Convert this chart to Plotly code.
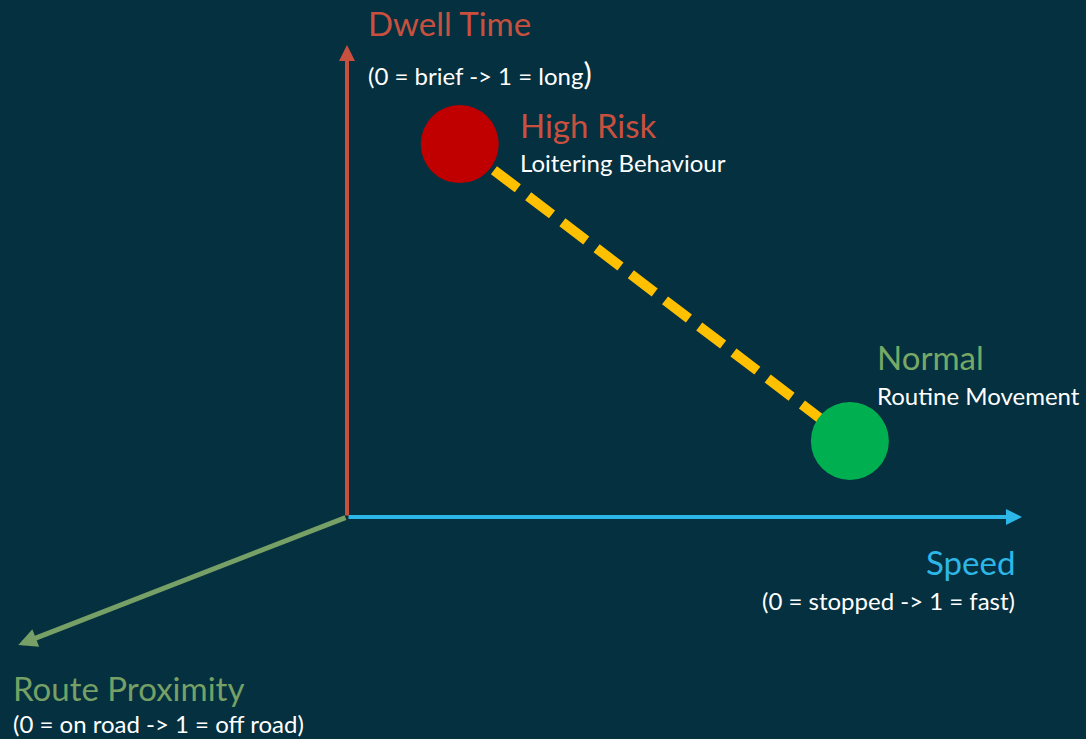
import plotly.graph_objects as go

# ---------------- data ----------------
categories = ["High Risk", "Normal"]
descriptions = ["Loitering Behaviour", "Routine Movement"]
speed = [0.167, 0.745]          # 0 = stopped -> 1 = fast
dwell = [0.790, 0.161]          # 0 = brief -> 1 = long
point_colors = ["#C00000", "#00B050"]
label_colors = ["#C9503F", "#77A865"]

axis_names = ["Speed", "Dwell Time", "Route Proximity"]
axis_notes = ["(0 = stopped -> 1 = fast)", "(0 = brief -> 1 = long", "(0 = on road -> 1 = off road)"]
axis_colors = ["#2DB7E8", "#C9503F", "#76A065"]
# projection of the third (Route Proximity) axis onto the page, unit = 1
proximity_dir = [-0.487, -0.271]

BG = "#04303F"
FONT = "Lato"
W, H = 1086, 739

fig = go.Figure()

# dashed connection between the two profiles
fig.add_trace(go.Scatter(
    x=speed, y=dwell, mode="lines",
    line=dict(color="#FFC000", width=10, dash="30px,13px"),
    hoverinfo="skip", showlegend=False))

# profile points
fig.add_trace(go.Scatter(
    x=speed, y=dwell, mode="markers",
    marker=dict(size=78, color=point_colors, line=dict(width=0)),
    hoverinfo="skip", showlegend=False))

ann = []
# axis arrows: speed (x), dwell (y), proximity (projected)
ends = [(1, 0), (0, 1), (proximity_dir[0], proximity_dir[1])]
widths = [4, 4, 5]
for (ex, ey), c, w in zip(ends, axis_colors, widths):
    ann.append(dict(x=ex, y=ey, ax=0, ay=0, xref="x", yref="y", axref="x", ayref="y",
                    text="", showarrow=True, arrowhead=2, arrowsize=0.8 if w == 4 else 0.75,
                    arrowwidth=w, arrowcolor=c, standoff=0, startstandoff=0))

title_size = 33
note_size = 24

# axis titles and notes
# speed
ann.append(dict(x=1, y=0, xref="x", yref="y", text=axis_names[0], showarrow=False,
                xanchor="right", yanchor="middle", xshift=-5, yshift=-45,
                font=dict(family=FONT, size=title_size, color=axis_colors[0])))
ann.append(dict(x=1, y=0, xref="x", yref="y", text=axis_notes[0], showarrow=False,
                xanchor="right", yanchor="middle", xshift=-5, yshift=-83,
                font=dict(family=FONT, size=note_size, color="white")))
# dwell
ann.append(dict(x=0, y=1, xref="x", yref="y", text=axis_names[1], showarrow=False,
                xanchor="left", yanchor="middle", xshift=19, yshift=22,
                font=dict(family=FONT, size=title_size, color=axis_colors[1])))
ann.append(dict(x=0, y=1, xref="x", yref="y",
                text=axis_notes[1] + "<span style='font-size:31px'>)</span>", showarrow=False,
                xanchor="left", yanchor="middle", xshift=19, yshift=-28,
                font=dict(family=FONT, size=note_size, color="white")))
# proximity
ann.append(dict(x=proximity_dir[0], y=proximity_dir[1], xref="x", yref="y", text=axis_names[2],
                showarrow=False, xanchor="left", yanchor="middle", xshift=-7, yshift=-43,
                font=dict(family=FONT, size=title_size, color=axis_colors[2])))
ann.append(dict(x=proximity_dir[0], y=proximity_dir[1], xref="x", yref="y", text=axis_notes[2],
                showarrow=False, xanchor="left", yanchor="middle", xshift=-7, yshift=-79,
                font=dict(family=FONT, size=note_size, color="white")))

# point labels
label_offsets = [(58, 19, -18), (25, 84, 46)]
for i in range(len(categories)):
    dx, dy1, dy2 = label_offsets[i]
    ann.append(dict(x=speed[i], y=dwell[i], xref="x", yref="y", text=categories[i],
                    showarrow=False, xanchor="left", yanchor="middle", xshift=dx, yshift=dy1,
                    font=dict(family=FONT, size=title_size, color=label_colors[i])))
    ann.append(dict(x=speed[i], y=dwell[i], xref="x", yref="y", text=descriptions[i],
                    showarrow=False, xanchor="left", yanchor="middle", xshift=dx, yshift=dy2,
                    font=dict(family=FONT, size=note_size, color="white")))

# pixel frame: origin at (347, 517), speed=1 at x=1022, dwell=1 at y=45
ox, oy, xe, ye = 347, 517, 1022, 45
sx = xe - ox
sy = oy - ye
fig.update_layout(
    width=W, height=H,
    margin=dict(l=0, r=0, t=0, b=0),
    paper_bgcolor=BG, plot_bgcolor=BG,
    xaxis=dict(range=[-ox / sx, (W - ox) / sx], visible=False, fixedrange=True),
    yaxis=dict(range=[-(H - oy) / sy, oy / sy], visible=False, fixedrange=True),
    annotations=ann,
    showlegend=False,
)

fig.write_html(
    "out.html",
    config={"displayModeBar": False},
    post_script="document.body.style.margin='0px';document.body.style.background='" + BG + "';",
)
